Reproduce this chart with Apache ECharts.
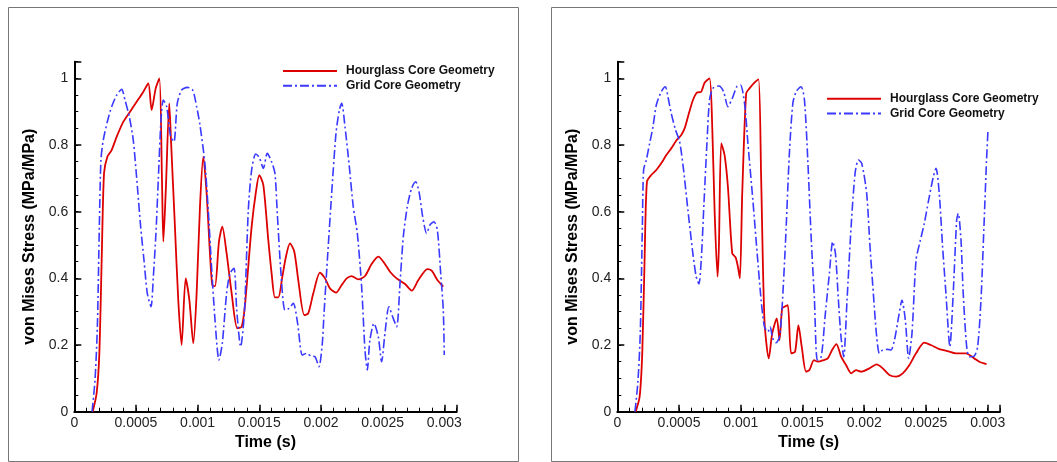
<!DOCTYPE html>
<html>
<head>
<meta charset="utf-8">
<script src="https://cdn.jsdelivr.net/npm/echarts@6/dist/echarts.min.js"></script>
<style>
html,body{margin:0;padding:0;background:#fff;}
#chart{width:1057px;height:462px;}
</style>
</head>
<body>
<div id="chart"></div>
<script>
// Time in milliseconds, stress ratio (MPa/MPa)
const seriesNames = ['Hourglass Core Geometry', 'Grid Core Geometry'];
const xTickStep = 0.0005;   // s
const yTickStep = 0.2;

const leftHourglass = [[0.149,0],[0.181,0.055],[0.203,0.175],[0.222,0.455],[0.241,0.715],[0.268,0.765],[0.303,0.785],[0.344,0.825],[0.398,0.87],[0.452,0.90],[0.519,0.937],[0.560,0.96],[0.600,0.985],[0.627,0.905],[0.660,0.97],[0.690,1.0],[0.711,0.695],[0.722,0.51],[0.743,0.675],[0.770,0.925],[0.784,0.815],[0.816,0.555],[0.843,0.335],[0.870,0.20],[0.903,0.40],[0.933,0.335],[0.965,0.205],[0.992,0.355],[1.019,0.615],[1.046,0.765],[1.073,0.655],[1.100,0.475],[1.119,0.38],[1.141,0.377],[1.173,0.51],[1.200,0.555],[1.235,0.475],[1.276,0.355],[1.322,0.25],[1.357,0.255],[1.384,0.32],[1.438,0.555],[1.473,0.66],[1.500,0.71],[1.533,0.68],[1.573,0.515],[1.600,0.415],[1.627,0.343],[1.654,0.343],[1.687,0.405],[1.716,0.465],[1.749,0.505],[1.784,0.48],[1.816,0.395],[1.865,0.29],[1.897,0.295],[1.938,0.355],[1.992,0.417],[2.033,0.40],[2.073,0.37],[2.122,0.357],[2.168,0.38],[2.209,0.40],[2.249,0.407],[2.303,0.397],[2.357,0.407],[2.411,0.443],[2.465,0.465],[2.506,0.45],[2.560,0.42],[2.614,0.40],[2.682,0.383],[2.736,0.363],[2.790,0.395],[2.863,0.428],[2.898,0.423],[2.944,0.395],[2.992,0.375]];

const leftGrid = [[0.144,0],[0.168,0.095],[0.187,0.255],[0.203,0.555],[0.216,0.755],[0.235,0.815],[0.268,0.87],[0.303,0.915],[0.344,0.95],[0.384,0.967],[0.411,0.935],[0.446,0.885],[0.478,0.815],[0.505,0.705],[0.538,0.555],[0.565,0.455],[0.592,0.355],[0.622,0.315],[0.641,0.405],[0.662,0.535],[0.681,0.695],[0.703,0.875],[0.722,0.935],[0.749,0.915],[0.781,0.825],[0.808,0.81],[0.835,0.925],[0.870,0.965],[0.916,0.973],[0.960,0.965],[0.992,0.915],[1.019,0.86],[1.059,0.745],[1.086,0.605],[1.113,0.435],[1.141,0.275],[1.173,0.155],[1.200,0.205],[1.235,0.355],[1.262,0.415],[1.295,0.43],[1.317,0.305],[1.349,0.195],[1.379,0.295],[1.411,0.605],[1.438,0.725],[1.471,0.773],[1.500,0.763],[1.533,0.73],[1.565,0.775],[1.600,0.75],[1.627,0.715],[1.646,0.595],[1.676,0.415],[1.708,0.305],[1.741,0.31],[1.776,0.325],[1.811,0.265],[1.849,0.17],[1.884,0.175],[1.919,0.167],[1.952,0.165],[1.984,0.135],[2.011,0.205],[2.025,0.295],[2.052,0.455],[2.087,0.655],[2.122,0.835],[2.149,0.905],[2.168,0.925],[2.195,0.855],[2.230,0.735],[2.262,0.615],[2.295,0.535],[2.330,0.375],[2.357,0.185],[2.376,0.125],[2.397,0.215],[2.430,0.265],[2.465,0.225],[2.492,0.15],[2.519,0.235],[2.551,0.315],[2.581,0.285],[2.614,0.255],[2.641,0.385],[2.668,0.525],[2.700,0.615],[2.735,0.67],[2.768,0.69],[2.795,0.66],[2.825,0.585],[2.857,0.535],[2.884,0.56],[2.917,0.57],[2.944,0.545],[2.971,0.415],[2.992,0.305],[3.0,0.17]];

const rightHourglass = [[0.149,0],[0.181,0.045],[0.202,0.175],[0.221,0.455],[0.240,0.69],[0.275,0.71],[0.316,0.725],[0.356,0.745],[0.397,0.77],[0.437,0.79],[0.477,0.813],[0.518,0.83],[0.545,0.85],[0.580,0.895],[0.613,0.935],[0.645,0.957],[0.680,0.96],[0.707,0.987],[0.747,1.0],[0.769,0.855],[0.788,0.605],[0.812,0.405],[0.823,0.495],[0.842,0.805],[0.869,0.77],[0.896,0.675],[0.931,0.475],[0.958,0.463],[0.977,0.435],[0.993,0.40],[1.012,0.655],[1.044,0.955],[1.071,0.97],[1.111,0.987],[1.144,0.997],[1.165,0.705],[1.192,0.275],[1.227,0.16],[1.255,0.235],[1.292,0.28],[1.314,0.215],[1.335,0.31],[1.354,0.315],[1.381,0.32],[1.408,0.175],[1.440,0.18],[1.467,0.26],[1.494,0.195],[1.529,0.12],[1.556,0.125],[1.593,0.155],[1.625,0.15],[1.672,0.155],[1.705,0.16],[1.740,0.185],[1.775,0.203],[1.813,0.165],[1.853,0.14],[1.894,0.115],[1.934,0.125],[1.975,0.12],[2.042,0.13],[2.101,0.142],[2.150,0.13],[2.204,0.11],[2.258,0.105],[2.312,0.115],[2.366,0.14],[2.420,0.175],[2.486,0.207],[2.540,0.20],[2.608,0.188],[2.675,0.182],[2.743,0.175],[2.824,0.175],[2.891,0.16],[2.932,0.15],[2.991,0.143]];

const rightGrid = [[0.143,0],[0.167,0.09],[0.186,0.235],[0.203,0.555],[0.213,0.725],[0.235,0.755],[0.262,0.805],[0.289,0.855],[0.316,0.92],[0.356,0.96],[0.389,0.975],[0.410,0.945],[0.437,0.895],[0.472,0.845],[0.505,0.81],[0.537,0.725],[0.572,0.605],[0.612,0.475],[0.639,0.405],[0.661,0.383],[0.680,0.455],[0.702,0.625],[0.726,0.805],[0.747,0.935],[0.774,0.97],[0.823,0.977],[0.861,0.96],[0.896,0.915],[0.931,0.94],[0.968,0.975],[0.998,0.98],[1.031,0.925],[1.058,0.805],[1.098,0.635],[1.133,0.475],[1.165,0.335],[1.192,0.255],[1.220,0.24],[1.238,0.255],[1.259,0.22],[1.287,0.207],[1.314,0.225],[1.335,0.315],[1.362,0.505],[1.394,0.775],[1.422,0.925],[1.449,0.96],[1.489,0.975],[1.516,0.935],[1.543,0.755],[1.570,0.525],[1.597,0.335],[1.620,0.155],[1.652,0.165],[1.683,0.285],[1.718,0.415],[1.745,0.51],[1.767,0.475],[1.791,0.335],[1.812,0.225],[1.834,0.165],[1.861,0.335],[1.894,0.555],[1.926,0.715],[1.953,0.755],[1.980,0.745],[2.020,0.655],[2.047,0.495],[2.074,0.355],[2.101,0.225],[2.123,0.175],[2.150,0.185],[2.190,0.187],[2.217,0.185],[2.245,0.215],[2.279,0.285],[2.306,0.335],[2.333,0.275],[2.360,0.16],[2.387,0.235],[2.420,0.455],[2.452,0.51],[2.487,0.565],[2.522,0.635],[2.560,0.705],[2.582,0.73],[2.608,0.655],[2.635,0.495],[2.662,0.355],[2.694,0.195],[2.721,0.355],[2.749,0.575],[2.762,0.595],[2.784,0.515],[2.802,0.355],[2.830,0.195],[2.851,0.165],[2.892,0.167],[2.919,0.195],[2.946,0.335],[2.972,0.575],[2.991,0.755],[3.002,0.84]];

const FONT = '"Liberation Sans", Arial, sans-serif';
const toSeconds = arr => arr.map(p => [p[0] * 0.001, p[1]]);

function isMultiple(v, step) {
  const k = v / step;
  return Math.abs(k - Math.round(k)) < 1e-6;
}

const grids = [
  {left: 74.3, top: 61.7, width: 382.3, height: 350},
  {left: 617.3, top: 61.7, width: 382.7, height: 350}
];

const xAxes = [], yAxes = [];
grids.forEach((g, gi) => {
  xAxes.push({
    gridIndex: gi, type: 'value', min: 0, max: 0.0031, interval: 0.0001, position: 'bottom',
    axisLine: {show: true, onZero: false, lineStyle: {color: '#000', width: 2}},
    axisTick: {show: true, inside: true, length: 4, lineStyle: {color: '#000', width: 1}},
    axisLabel: {
      fontFamily: FONT, fontSize: 14, color: '#222', margin: 4,
      formatter: v => isMultiple(v, xTickStep) ? String(+v.toFixed(6)) : ''
    },
    splitLine: {show: false},
    name: 'Time (s)', nameLocation: 'middle', nameGap: 21,
    nameTextStyle: {fontFamily: FONT, fontSize: 16, fontWeight: 'bold', color: '#000'}
  });
  xAxes.push({
    gridIndex: gi, type: 'value', min: 0, max: 0.0031, interval: xTickStep, position: 'bottom', offset: 0,
    axisLine: {show: false},
    axisTick: {show: true, inside: true, length: 7, lineStyle: {color: '#000', width: 1.5}},
    axisLabel: {show: false}, splitLine: {show: false}
  });
  yAxes.push({
    gridIndex: gi, type: 'value', min: 0, max: 1.05, interval: 0.05, position: 'left',
    axisLine: {show: true, onZero: false, lineStyle: {color: '#000', width: 2}},
    axisTick: {show: true, inside: true, length: 4, lineStyle: {color: '#000', width: 1}},
    axisLabel: {
      fontFamily: FONT, fontSize: 14, color: '#222', margin: 6,
      formatter: v => isMultiple(v, yTickStep) ? String(+v.toFixed(4)) : ''
    },
    splitLine: {show: false},
    name: 'von Mises Stress (MPa/MPa)', nameLocation: 'middle', nameGap: 37, nameRotate: 90,
    nameTextStyle: {fontFamily: FONT, fontSize: 16, fontWeight: 'bold', color: '#000'}
  });
  yAxes.push({
    gridIndex: gi, type: 'value', min: 0, max: 1.05, interval: yTickStep, position: 'left', offset: 0,
    axisLine: {show: false},
    axisTick: {show: true, inside: true, length: 7, lineStyle: {color: '#000', width: 1.5}},
    axisLabel: {show: false}, splitLine: {show: false}
  });
});

const RED = '#dd0000', BLUE = '#3a3aff';
function mkSeries(name, data, gi, isGrid) {
  return {
    name: name, type: 'line', data: toSeconds(data),
    xAxisIndex: gi * 2, yAxisIndex: gi * 2,
    symbol: 'none', smooth: 0.25, animation: false,
    lineStyle: isGrid ? {color: BLUE, width: 1.6, type: [9, 3, 2, 3]} : {color: RED, width: 1.8},
    itemStyle: {color: isGrid ? BLUE : RED}
  };
}

const legendBase = {
  orient: 'vertical', itemWidth: 54, itemHeight: 12, itemGap: 2.7,
  data: seriesNames, selectedMode: false,
  itemStyle: {opacity: 0},
  textStyle: {fontFamily: FONT, fontSize: 12, fontWeight: 'bold', color: '#111', padding: [0, 0, 0, 4]}
};

const option = {
  backgroundColor: '#fff',
  animation: false,
  grid: grids,
  xAxis: xAxes,
  yAxis: yAxes,
  legend: [
    Object.assign({left: 277, top: 60}, legendBase),
    Object.assign({left: 821, top: 87.7}, legendBase)
  ],
  graphic: [
    {type: 'rect', shape: {x: 8.5, y: 7.5, width: 510, height: 454}, style: {fill: 'none', stroke: '#777', lineWidth: 1}, silent: true},
    {type: 'rect', shape: {x: 551.5, y: 7.5, width: 520, height: 454}, style: {fill: 'none', stroke: '#777', lineWidth: 1}, silent: true}
  ],
  series: [
    mkSeries(seriesNames[0], leftHourglass, 0, false),
    mkSeries(seriesNames[1], leftGrid, 0, true),
    mkSeries(seriesNames[0], rightHourglass, 1, false),
    mkSeries(seriesNames[1], rightGrid, 1, true)
  ]
};

const chart = echarts.init(document.getElementById('chart'), null, {renderer: 'canvas'});
chart.setOption(option);
</script>
</body>
</html>
